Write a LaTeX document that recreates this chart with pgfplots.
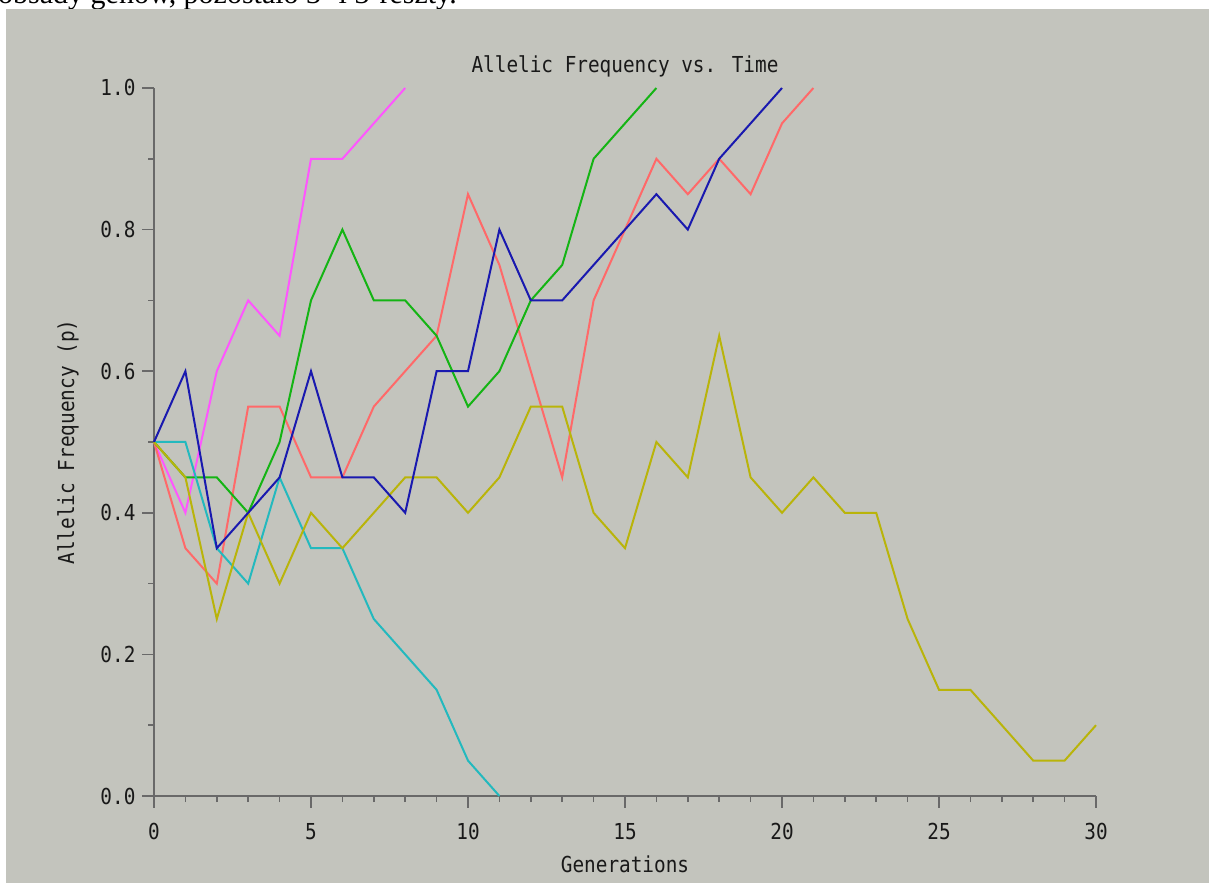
\documentclass[border=0pt]{standalone}
\usepackage{fontspec}
\usepackage{pgfplots}
\pgfplotsset{compat=1.18}
\setmainfont{Liberation Serif}
\newfontfamily\pixfont[FakeStretch=0.88]{DejaVu Sans Mono}
\definecolor{panel}{RGB}{195,196,189}
\definecolor{axgray}{RGB}{105,105,105}
\definecolor{txt}{RGB}{25,25,25}
\definecolor{cMag}{RGB}{255,85,255}
\definecolor{cRed}{RGB}{255,105,105}
\definecolor{cGreen}{RGB}{20,180,20}
\definecolor{cBlue}{RGB}{25,25,175}
\definecolor{cCyan}{RGB}{35,185,190}
\definecolor{cOlive}{RGB}{185,180,10}
\begin{document}
\begin{tikzpicture}[x=1pt,y=1pt]
\useasboundingbox (0,0) rectangle (1209,883);
\clip (0,0) rectangle (1209,883);
\fill[white] (0,0) rectangle (1209,883);
\node[anchor=base west, inner sep=0pt, font=\fontsize{30}{30}\selectfont] at (-2,879) {obsady genów, pozostało 3- i 3-reszty.};
\fill[panel] (6,0) rectangle (1209,874);
\begin{axis}[
  at={(154pt,87pt)}, anchor=south west,
  scale only axis, width=942pt, height=708pt,
  xmin=0, xmax=30, ymin=0, ymax=1,
  axis x line=bottom, axis y line=left,
  axis line style={-, draw=axgray, line width=1.5pt},
  every tick/.style={draw=axgray, line width=1.5pt},
  tick align=outside,
  major tick length=12pt, minor tick length=6pt,
  xtick={0,5,...,30}, minor x tick num=4,
  ytick={0,0.2,0.4,0.6,0.8,1.0}, minor y tick num=1,
  /pgf/number format/assume math mode=true,
  ticklabel style={font=\pixfont\fontsize{22}{22}\selectfont, text=txt},
  xticklabel style={yshift=-12pt},
  yticklabel style={xshift=-3pt, /pgf/number format/.cd, fixed, fixed zerofill, precision=1},
  title={Allelic Frequency vs. Time},
  title style={font=\pixfont\fontsize{22}{22}\selectfont, text=txt, at={(axis description cs:0.5,1)}, anchor=center, yshift=16pt},
  xlabel={Generations},
  xlabel style={font=\pixfont\fontsize{22}{22}\selectfont, text=txt, at={(axis description cs:0.5,0)}, anchor=center, yshift=-68pt},
  ylabel={Allelic Frequency (p)},
  ylabel style={font=\pixfont\fontsize{22}{22}\selectfont, text=txt, at={(axis description cs:0,0.5)}, anchor=center, yshift=86pt},
  every axis plot/.append style={line width=2pt, mark=none},
  clip=false,
]
\addplot[cMag] coordinates {(0,0.5)(1,0.4)(2,0.6)(3,0.7)(4,0.65)(5,0.9)(6,0.9)(7,0.95)(8,1.0)};
\addplot[cRed] coordinates {(0,0.5)(1,0.35)(2,0.3)(3,0.55)(4,0.55)(5,0.45)(6,0.45)(7,0.55)(8,0.6)(9,0.65)(10,0.85)(11,0.75)(12,0.6)(13,0.45)(14,0.7)(15,0.8)(16,0.9)(17,0.85)(18,0.9)(19,0.85)(20,0.95)(21,1.0)};
\addplot[cGreen] coordinates {(0,0.5)(1,0.45)(2,0.45)(3,0.4)(4,0.5)(5,0.7)(6,0.8)(7,0.7)(8,0.7)(9,0.65)(10,0.55)(11,0.6)(12,0.7)(13,0.75)(14,0.9)(15,0.95)(16,1.0)};
\addplot[cCyan] coordinates {(0,0.5)(1,0.5)(2,0.35)(3,0.3)(4,0.45)(5,0.35)(6,0.35)(7,0.25)(8,0.2)(9,0.15)(10,0.05)(11,0.0)};
\addplot[cOlive] coordinates {(0,0.5)(1,0.45)(2,0.25)(3,0.4)(4,0.3)(5,0.4)(6,0.35)(7,0.4)(8,0.45)(9,0.45)(10,0.4)(11,0.45)(12,0.55)(13,0.55)(14,0.4)(15,0.35)(16,0.5)(17,0.45)(18,0.65)(19,0.45)(20,0.4)(21,0.45)(22,0.4)(23,0.4)(24,0.25)(25,0.15)(26,0.15)(27,0.1)(28,0.05)(29,0.05)(30,0.1)};
\addplot[cBlue] coordinates {(0,0.5)(1,0.6)(2,0.35)(3,0.4)(4,0.45)(5,0.6)(6,0.45)(7,0.45)(8,0.4)(9,0.6)(10,0.6)(11,0.8)(12,0.7)(13,0.7)(14,0.75)(15,0.8)(16,0.85)(17,0.8)(18,0.9)(19,0.95)(20,1.0)};
\end{axis}
\end{tikzpicture}
\end{document}
